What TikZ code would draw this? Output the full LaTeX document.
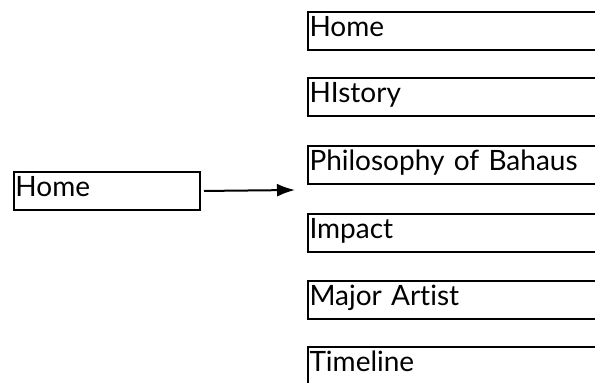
\documentclass[tikz,border=0pt]{standalone}
\usepackage{fontspec}
\setmainfont{Lato}[Ligatures=NoCommon]
\usetikzlibrary{arrows.meta}

\tikzset{
	menubox/.style={draw, line width=2pt, rectangle, anchor=north west, inner xsep=1.5pt, inner ysep=0pt, minimum height=38pt, text width=310pt, align=left, text height=21pt, text depth=9pt, font=\fontsize{28}{30}\selectfont},
	startbox/.style={menubox, text width=183pt}
}

\begin{document}
\begin{tikzpicture}[x=1pt, y=1pt, >={Latex[length=18pt, width=13pt]}]
	%%%	Cornice
	\useasboundingbox (0,0) rectangle (595,383);
	\clip (0,0) rectangle (595,383);
	
	%%%	Disegno
	% Pagina iniziale
	\node[startbox] (start) at (13,212) {Home};
	\coordinate (tip) at (295,193);
	\draw[line width=2pt, ->, shorten <=3pt] (start.east) -- (tip);
	
	% Menu
	\node[menubox] (home) at (307,372) {Home};
	\node[menubox] (history) at (307,306) {HIstory};
	\node[menubox] (philosophy) at (307,238) {Philosophy of Bahaus};
	\node[menubox] (impact) at (307,170) {Impact};
	\node[menubox] (artist) at (307,103) {Major Artist};
	\node[menubox] (timeline) at (307,37) {Timeline};
	
\end{tikzpicture}
\end{document}
